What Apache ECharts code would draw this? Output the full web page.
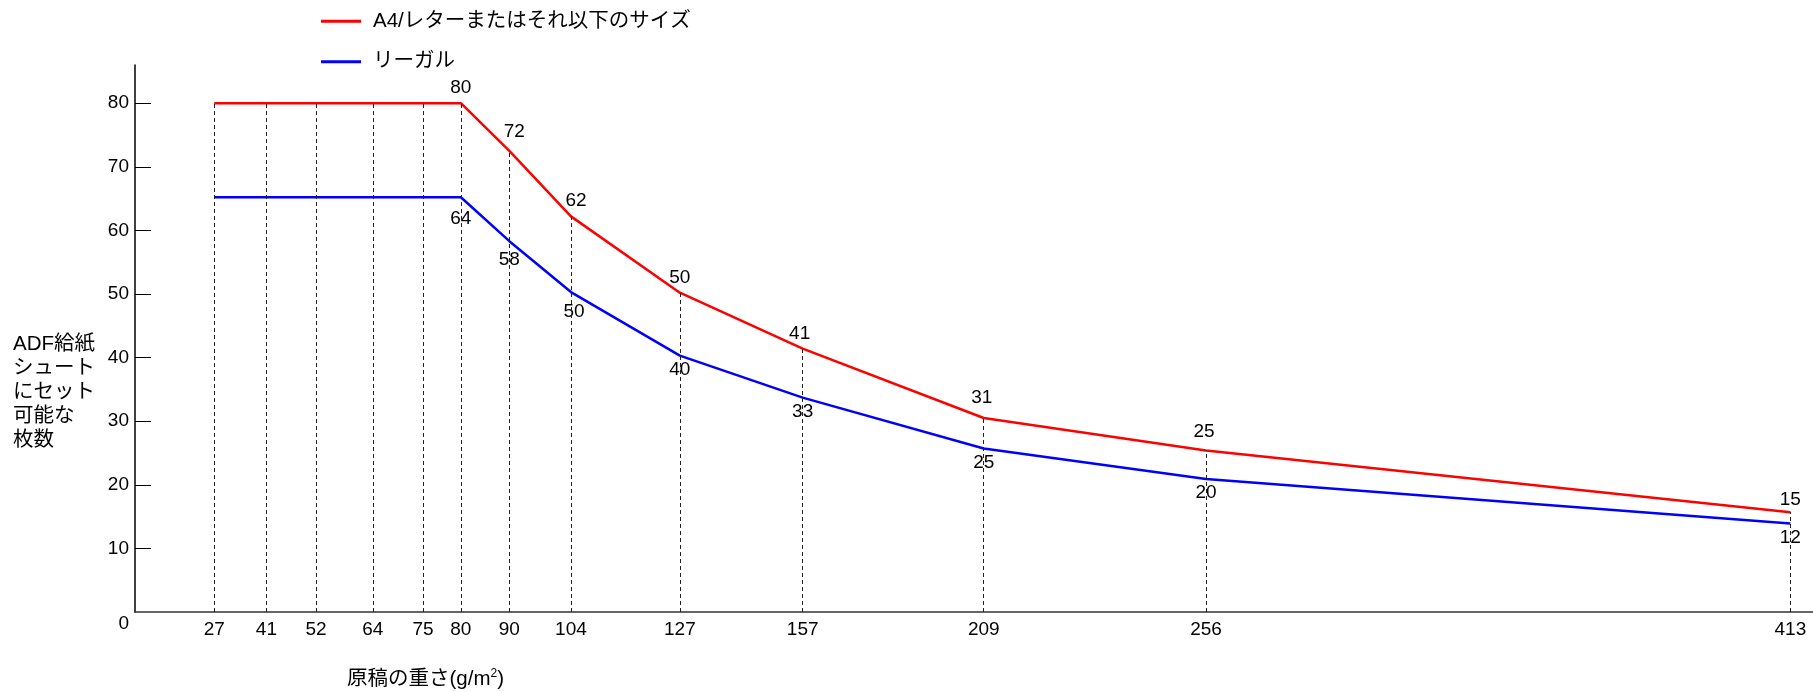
<!DOCTYPE html>
<html>
<head>
<meta charset="utf-8">
<script src="https://cdn.jsdelivr.net/npm/echarts@6/dist/echarts.min.js"></script>
<style>
  html, body { margin: 0; padding: 0; background: #fff; }
  #chart { width: 1813px; height: 692px; }
</style>
</head>
<body>
<div id="chart"></div>
<script>
// paper weights (g/m2) shown on the x axis
const weights = [27, 41, 52, 64, 75, 80, 90, 104, 127, 157, 209, 256, 413];
// the x axis is not to scale: where each weight sits along it (0-100)
const weightAxisPos = [4.73, 7.83, 10.79, 14.17, 17.16, 19.42, 22.31, 25.98, 32.47, 39.79, 50.58, 63.83, 98.65];

// sheets that fit in the ADF chute
const a4Values = [80, 80, 80, 80, 80, 80, 72.5, 62.2, 50.2, 41.4, 30.5, 25.4, 15.7];
const legalValues = [65.2, 65.2, 65.2, 65.2, 65.2, 65.2, 58.3, 50.3, 40.3, 33.7, 25.7, 20.9, 13.9];

// annotations printed next to the lines
const a4Labels = [null, null, null, null, null, "80", "72", "62", "50", "41", "31", "25", "15"];
const legalLabels = [null, null, null, null, null, "64", "58", "50", "40", "33", "25", "20", "12"];

const yTicks = [0, 10, 20, 30, 40, 50, 60, 70, 80];
const seriesNames = ["A4/レターまたはそれ以下のサイズ", "リーガル"];

const FONT = "'Liberation Sans', Arial, 'Noto Sans CJK JP', sans-serif";

// small hand nudges so the annotations sit where the original puts them
const a4LabelNudge = { 90: [5, -4], 104: [5, -1], 157: [-3, 0], 209: [-2, -5], 256: [-2, -4], 413: [0, 3] };
const legalLabelNudge = { 80: [0, 7], 90: [0, 5], 104: [3, 6] };

const chart = echarts.init(document.getElementById("chart"));

const weightByPos = new Map(weightAxisPos.map((p, i) => [p, weights[i]]));

const labelPoints = (values, labels, nudge) =>
  values.map((v, i) => ({
    value: [weightAxisPos[i], v],
    label: labels[i]
      ? { show: true, formatter: labels[i], offset: nudge[weights[i]] || [0, 0] }
      : { show: false },
  }));

const option = {
  animation: false,
  backgroundColor: "#fff",
  grid: {
    left: 135,
    right: 0,
    top: 65,
    bottom: 80,
    containLabel: false,
    outerBoundsMode: "none",
  },
  legend: {
    orient: "vertical",
    left: 316,
    top: 6,
    icon: "rect",
    itemWidth: 40,
    itemHeight: 3,
    itemGap: 20,
    selectedMode: false,
    data: seriesNames,
    textStyle: {
      fontFamily: FONT,
      fontSize: 20.5,
      color: "#000",
      lineHeight: 20,
      padding: [0, 0, 0, 7],
    },
  },
  xAxis: {
    type: "value",
    min: 0,
    max: 100,
    splitLine: { show: false },
    axisTick: { show: false },
    axisLine: { lineStyle: { color: "#333", width: 1.5 } },
    axisLabel: {
      customValues: weightAxisPos,
      formatter: (v) => String(weightByPos.get(v) ?? ""),
      margin: 8,
      fontFamily: FONT,
      fontSize: 19,
      color: "#000",
    },
  },
  yAxis: {
    type: "value",
    min: 0,
    max: 86,
    splitLine: { show: false },
    axisLine: { show: true, lineStyle: { color: "#000", width: 1.5 } },
    axisTick: {
      show: true,
      inside: true,
      length: 16,
      customValues: yTicks.slice(1),
      lineStyle: { color: "#000", width: 1 },
    },
    axisLabel: {
      customValues: yTicks,
      margin: 6,
      fontFamily: FONT,
      fontSize: 19,
      color: "#000",
      formatter: (v) => (v === 0 ? "{zero|0}" : String(v)),
      rich: {
        zero: { fontFamily: FONT, fontSize: 19, color: "#000", padding: [24, 0, 0, 0] },
      },
    },
  },
  graphic: [
    {
      type: "text",
      left: 13,
      top: 332,
      style: {
        text: "ADF給紙\nシュート\nにセット\n可能な\n枚数",
        fontFamily: FONT,
        fontSize: 20.5,
        lineHeight: 24,
        fill: "#000",
      },
    },
    {
      type: "text",
      left: 347,
      top: 668,
      style: {
        text: "原稿の重さ(g/m{sup|2})",
        fontFamily: FONT,
        fontSize: 20.5,
        lineHeight: 22,
        fill: "#000",
        rich: {
          sup: { fontFamily: FONT, fontSize: 12, verticalAlign: "top", lineHeight: 22 },
        },
      },
    },
  ],
  series: [
    {
      // dashed drop lines from the A4 curve down to the axis
      name: "guide",
      type: "line",
      z: 1,
      data: [],
      silent: true,
      markLine: {
        silent: true,
        symbol: ["none", "none"],
        label: { show: false },
        lineStyle: { type: [4, 3], color: "#222", width: 1 },
        data: weightAxisPos.map((p, i) => [{ coord: [p, 0] }, { coord: [p, a4Values[i]] }]),
      },
    },
    {
      // legal-size annotations: white boxes that break the dashed lines, under the curves
      name: "legalLabels",
      type: "scatter",
      z: 2,
      silent: true,
      symbolSize: 1,
      itemStyle: { color: "rgba(0,0,0,0)", opacity: 1 },
      label: {
        position: "bottom",
        distance: 4,
        fontFamily: FONT,
        fontSize: 19,
        color: "#000",
        opacity: 1,
        backgroundColor: "#fff",
        padding: [0, 2],
      },
      data: labelPoints(legalValues, legalLabels, legalLabelNudge).filter((d) => d.label.show),
    },
    {
      name: seriesNames[0],
      type: "line",
      z: 3,
      symbol: "circle",
      symbolSize: 1,
      color: "#ff0000",
      lineStyle: { width: 2.5, color: "#ff0000" },
      label: {
        position: "top",
        distance: 5,
        fontFamily: FONT,
        fontSize: 19,
        color: "#000",
      },
      data: labelPoints(a4Values, a4Labels, a4LabelNudge),
    },
    {
      name: seriesNames[1],
      type: "line",
      z: 3,
      showSymbol: false,
      symbol: "none",
      color: "#0000ff",
      lineStyle: { width: 2.5, color: "#0000ff" },
      data: legalValues.map((v, i) => [weightAxisPos[i], v]),
    },
  ],
};

chart.setOption(option);
</script>
</body>
</html>
